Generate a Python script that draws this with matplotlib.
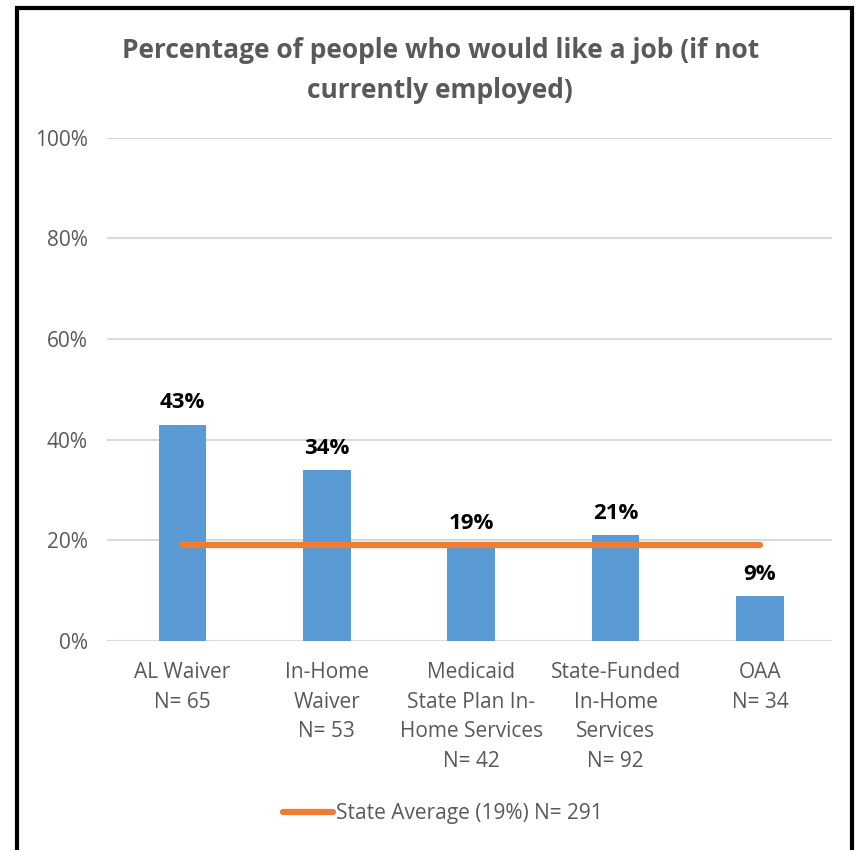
import numpy as np
from matplotlib import pyplot as plt
from matplotlib.patches import Rectangle

categories = ['AL Waiver\nN= 65', 'In-Home\nWaiver\nN= 53', 'Medicaid\nState Plan In-\nHome Services\nN= 42',
              'State-Funded\nIn-Home\nServices\nN= 92', 'OAA\nN= 34']
values = [43, 34, 19, 21, 9]
state_avg = 19
legend_label = 'State Average (19%) N= 291'
title = 'Percentage of people who would like a job (if not\ncurrently employed)'

plt.rcParams['font.family'] = ['Open Sans', 'DejaVu Sans']
grey = '#595959'

fig = plt.figure(figsize=(8.65, 8.5), dpi=100)
ax = fig.add_axes([0.124, 0.246, 0.838, 0.592])

x = np.arange(len(values))
ax.bar(x, values, width=0.33, color='#5b9bd5', zorder=2)
line, = ax.plot(x, [state_avg] * len(x), color='#ed7d31', lw=4.5, solid_capstyle='round',
                zorder=3, label=legend_label)

for xi, v in zip(x, values):
    ax.text(xi, v + 2.2, '%d%%' % v, ha='center', va='bottom', fontsize=16, fontweight='bold', color='black')

ax.set_xlim(-0.52, 4.5)
ax.set_ylim(0, 100)
ax.set_yticks(np.arange(0, 101, 20))
ax.set_yticklabels(['%d%%' % t for t in range(0, 101, 20)])
ax.set_xticks(x)
ax.set_xticklabels(categories, linespacing=1.55)
ax.tick_params(axis='both', length=0, colors=grey, labelsize=15)
ax.tick_params(axis='x', pad=15)
ax.tick_params(axis='y', pad=14)
ax.grid(axis='y', color='#d9d9d9', lw=1.5, zorder=0)
for s in ax.spines.values():
    s.set_visible(False)

fig.text(0.509, 0.917, title, ha='center', va='center', fontsize=19, fontweight='bold',
         color=grey, linespacing=1.6)

fig.legend(handles=[line], loc='center', bbox_to_anchor=(0.512, 0.043), frameon=False,
           fontsize=15, labelcolor=grey, handlelength=2.4, handletextpad=0.1)

# black frame round the chart
fig.patches.append(Rectangle((17 / 865, -0.01), 835 / 865, 0.9995 - 8 / 850 + 0.01, transform=fig.transFigure,
                             fill=False, edgecolor='black', lw=3))

plt.savefig('out.png', dpi=100)
